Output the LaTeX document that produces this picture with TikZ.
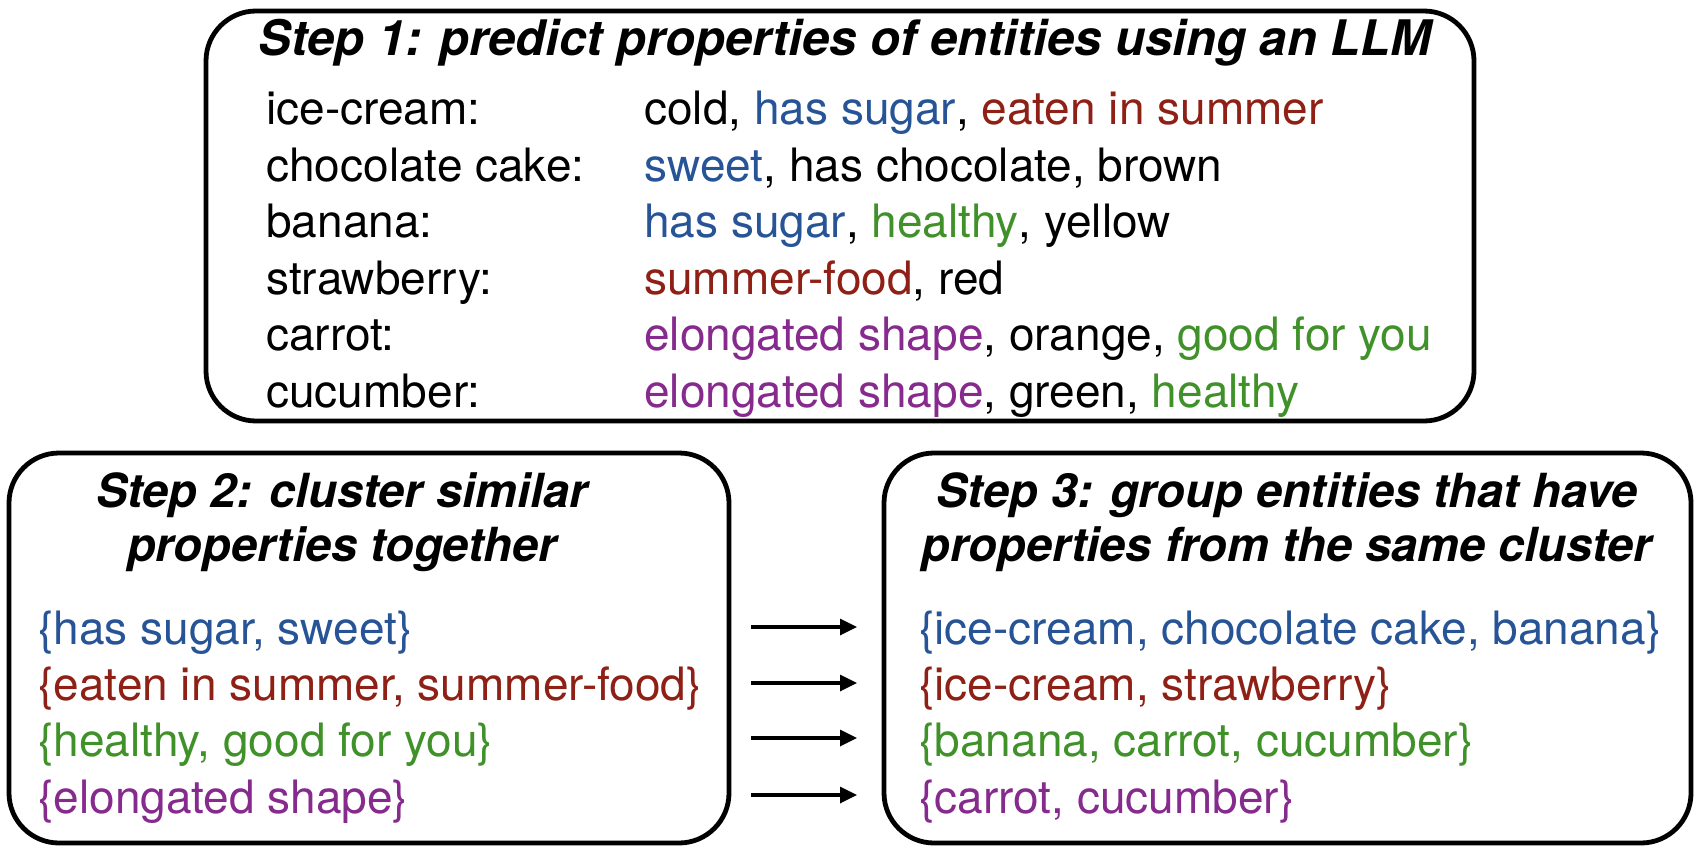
\documentclass[tikz,border=0pt]{standalone}
\usepackage{fontspec}
\setmainfont{TeX Gyre Heros}
\usetikzlibrary{positioning,arrows.meta}
\definecolor{cblue}{RGB}{38,84,150}
\definecolor{cred}{RGB}{142,32,22}
\definecolor{cgreen}{RGB}{64,145,42}
\definecolor{cpurple}{RGB}{134,42,142}
\tikzset{
  stepbox/.style={draw,line width=2.4pt,rounded corners=25pt},
  steptitle/.style={font=\fontsize{23.5}{27}\selectfont\bfseries\itshape,
            align=center,inner sep=0pt},
  row/.style={font=\fontsize{23}{28}\selectfont,inner sep=0pt,anchor=base west},
  nextrow/.style={below=28.2pt of #1.base west,anchor=base west},
  flow/.style={-{Triangle[length=8.5pt,width=8pt]},line width=1.65pt},
}

\begin{document}
\begin{tikzpicture}[x=0.5pt,y=-0.5pt]
  \useasboundingbox (0,0) rectangle (1700,856);
  % the three steps
  \node[stepbox,minimum width=634pt,minimum height=205pt] (s1) at (840,216) {};
  \node[stepbox,minimum width=360pt,minimum height=195pt] (s2) at (369,648) {};
  \node[stepbox,minimum width=403.5pt,minimum height=195pt] (s3) at (1287.5,648) {};
  \node[steptitle,anchor=base,font=\fontsize{24.5}{27}\selectfont\bfseries\itshape]
        (t1) at (845,56) {Step 1: predict properties of entities using an LLM};
  \node[steptitle] (t2) at (342,522) {Step 2: cluster similar\\properties together};
  \node[steptitle] (t3) at (1287,522)
        {Step 3: group entities that have\\properties from the same cluster};
  % step 1: entities and their properties
  \coordinate (pcol) at (644,0);
  \node[row] (e1) at (266,125) {ice-cream:};
  \node[row,nextrow=e1] (e2) {chocolate cake:};
  \node[row,nextrow=e2] (e3) {banana:};
  \node[row,nextrow=e3] (e4) {strawberry:};
  \node[row,nextrow=e4] (e5) {carrot:};
  \node[row,nextrow=e5] (e6) {cucumber:};
  \node[row] (p1) at (e1.base -| pcol)
        {cold, \textcolor{cblue}{has sugar}, \textcolor{cred}{eaten in summer}};
  \node[row] (p2) at (e2.base -| pcol) {\textcolor{cblue}{sweet}, has chocolate, brown};
  \node[row] (p3) at (e3.base -| pcol)
        {\textcolor{cblue}{has sugar}, \textcolor{cgreen}{healthy}, yellow};
  \node[row] (p4) at (e4.base -| pcol) {\textcolor{cred}{summer-food}, red};
  \node[row] (p5) at (e5.base -| pcol)
        {\textcolor{cpurple}{elongated shape}, orange, \textcolor{cgreen}{good for you}};
  \node[row] (p6) at (e6.base -| pcol)
        {\textcolor{cpurple}{elongated shape}, green, \textcolor{cgreen}{healthy}};
  % step 2: clusters
  \node[row,cblue] (c1) at (38,644) {\{has sugar, sweet\}};
  \node[row,cred,nextrow=c1] (c2) {\{eaten in summer, summer-food\}};
  \node[row,cgreen,nextrow=c2] (c3) {\{healthy, good for you\}};
  \node[row,cpurple,nextrow=c3] (c4) {\{elongated shape\}};
  % step 3: groups
  \node[row,cblue] (g1) at (919,644) {\{ice-cream, chocolate cake, banana\}};
  \node[row,cred,nextrow=g1] (g2) {\{ice-cream, strawberry\}};
  \node[row,cgreen,nextrow=g2] (g3) {\{banana, carrot, cucumber\}};
  \node[row,cpurple,nextrow=g3] (g4) {\{carrot, cucumber\}};
  % arrows between the two lower boxes
  \coordinate (a1) at (751,627); \coordinate (b1) at (857,627);
  \coordinate (a2) at (751,683); \coordinate (b2) at (857,683);
  \coordinate (a3) at (751,738); \coordinate (b3) at (857,738);
  \coordinate (a4) at (751,795); \coordinate (b4) at (857,795);
  \draw[flow] (a1) -- (b1);
  \draw[flow] (a2) -- (b2);
  \draw[flow] (a3) -- (b3);
  \draw[flow] (a4) -- (b4);
\end{tikzpicture}
\end{document}
